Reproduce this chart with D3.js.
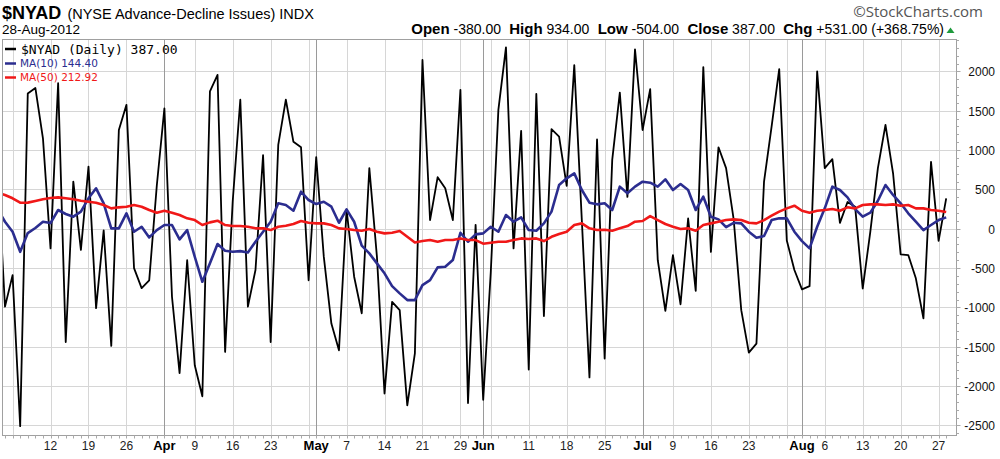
<!DOCTYPE html>
<html><head><meta charset="utf-8">
<script src="https://cdn.jsdelivr.net/npm/d3@7/dist/d3.min.js"></script>
<style>body{margin:0;background:#fff;} svg{display:block;}</style>
</head><body>
<svg id="chart" width="1000" height="459"></svg>
<script>
// ---------- DATA ----------
const tradingDays = [
 "2012-03-01","2012-03-02","2012-03-05","2012-03-06","2012-03-07","2012-03-08","2012-03-09","2012-03-12","2012-03-13","2012-03-14","2012-03-15","2012-03-16","2012-03-19","2012-03-20","2012-03-21","2012-03-22","2012-03-23","2012-03-26","2012-03-27","2012-03-28","2012-03-29","2012-03-30",
 "2012-04-02","2012-04-03","2012-04-04","2012-04-05","2012-04-09","2012-04-10","2012-04-11","2012-04-12","2012-04-13","2012-04-16","2012-04-17","2012-04-18","2012-04-19","2012-04-20","2012-04-23","2012-04-24","2012-04-25","2012-04-26","2012-04-27","2012-04-30",
 "2012-05-01","2012-05-02","2012-05-03","2012-05-04","2012-05-07","2012-05-08","2012-05-09","2012-05-10","2012-05-11","2012-05-14","2012-05-15","2012-05-16","2012-05-17","2012-05-18","2012-05-21","2012-05-22","2012-05-23","2012-05-24","2012-05-25","2012-05-29","2012-05-30","2012-05-31",
 "2012-06-01","2012-06-04","2012-06-05","2012-06-06","2012-06-07","2012-06-08","2012-06-11","2012-06-12","2012-06-13","2012-06-14","2012-06-15","2012-06-18","2012-06-19","2012-06-20","2012-06-21","2012-06-22","2012-06-25","2012-06-26","2012-06-27","2012-06-28","2012-06-29",
 "2012-07-02","2012-07-03","2012-07-05","2012-07-06","2012-07-09","2012-07-10","2012-07-11","2012-07-12","2012-07-13","2012-07-16","2012-07-17","2012-07-18","2012-07-19","2012-07-20","2012-07-23","2012-07-24","2012-07-25","2012-07-26","2012-07-27","2012-07-30","2012-07-31",
 "2012-08-01","2012-08-02","2012-08-03","2012-08-06","2012-08-07","2012-08-08","2012-08-09","2012-08-10","2012-08-13","2012-08-14","2012-08-15","2012-08-16","2012-08-17","2012-08-20","2012-08-21","2012-08-22","2012-08-23","2012-08-24","2012-08-27","2012-08-28"
];
const nyad = [800,
 -990,-590,-2510,1720,1790,1150,-250,1850,-1440,600,
 -270,790,-1010,-20,-1490,1255,1575,-500,-755,-655,
 550,1530,-865,-1835,-400,-1735,-2130,1745,1955,-1565,
 350,1640,-990,-525,935,-1440,1065,1640,1105,1035,
 -655,910,-355,-1205,-1545,240,-610,-1075,770,-355,
 -2095,-930,-1035,-2245,-1585,2145,110,655,515,110,
 1765,-2215,50,-2175,-550,1510,2305,-250,1245,-1790,
 1715,-1110,1265,1170,545,2080,100,-1890,1135,-1650,
 875,1730,405,2280,1255,1775,-400,-1045,-335,-960,
 130,-790,2055,-295,1035,770,120,-1035,-1575,-1460,
 600,1300,2030,-150,-525,-770,-730,2000,770,885,
 75,340,280,-760,-40,770,1320,705,-325,-335,
 -630,-1140,850,-155,387];
const ma10 = [250,
 89,-38,-293,-55,9,89,72,238,187,153,
 217,387,514,323,5,5,196,-38,25,-110,
 -17,47,47,-135,-17,-356,-674,-440,-195,-280,
 -293,-285,-301,-165,-38,89,323,301,229,471,
 365,314,343,280,76,247,89,-215,-313,-440,
 -567,-729,-822,-907,-907,-716,-653,-491,-483,-398,
 -51,-165,-72,-59,25,-38,174,89,145,-17,
 -25,68,217,556,641,704,492,331,310,323,
 238,535,450,535,598,585,535,628,492,568,
 492,238,407,153,119,20,76,68,-38,-114,
 -93,110,132,132,-38,-157,-250,25,259,535,
 492,399,250,153,204,356,556,429,323,196,
 89,-17,47,110,144.4];
const ma50 = [460,
 429,387,331,332,352,374,390,399,387,374,
 356,343,331,301,259,272,280,301,280,238,
 204,229,204,174,132,110,47,81,102,47,
 34,34,25,5,5,-17,25,38,60,98,
 76,68,68,47,5,-4,-17,-25,-4,-38,
 -59,-51,-29,-102,-174,-157,-144,-165,-144,-144,
 -123,-144,-144,-190,-178,-165,-165,-144,-123,-131,
 -123,-157,-102,-67,-38,47,68,5,-17,-12,
 -25,5,34,89,98,161,110,60,25,-4,
 5,-25,47,68,89,110,119,110,76,68,
 110,166,217,259,293,229,204,229,238,251,
 229,272,259,301,310,310,301,310,293,301,
 259,259,238,229,212.92];
const yTicks = [2000,1500,1000,500,0,-500,-1000,-1500,-2000,-2500];
const xTickDays = ["2012-03-12","2012-03-19","2012-03-26","2012-04-02","2012-04-09","2012-04-16","2012-04-23","2012-05-01","2012-05-07","2012-05-14","2012-05-21","2012-05-29","2012-06-01","2012-06-11","2012-06-18","2012-06-25","2012-07-02","2012-07-09","2012-07-16","2012-07-23","2012-08-01","2012-08-06","2012-08-13","2012-08-20","2012-08-27"];
const xTickLabels = ["12","19","26","Apr","9","16","23","May","7","14","21","29","Jun","11","18","25","Jul","9","16","23","Aug","6","13","20","27"];
const monthNames = ["Apr","May","Jun","Jul","Aug"];
const legendTexts = ["$NYAD (Daily) 387.00","MA(10) 144.40","MA(50) 212.92"];
const headerStats = [["Open","-380.00"],["High","934.00"],["Low","-504.00"],["Close","387.00"],["Chg","+531.00 (+368.75%)"]];

// ---------- LAYOUT ----------
const svg = d3.select("#chart");
const F = "'Liberation Sans', Arial, sans-serif";
const L = 2.5, R = 956.5, T = 39.5, B = 435.5;
const x = d3.scaleLinear().domain([1, tradingDays.length - 1]).range([5, 946.2]);
const y = d3.scaleLinear().domain([-2500, 2000]).range([425.4, 71.4]);
const parse = d3.timeParse("%Y-%m-%d");
const dates = tradingDays.map(parse);
const idx = new Map(tradingDays.map((d, i) => [d, i]));

// grid
const g = svg.append("g");
g.selectAll(".hg").data(yTicks).join("line")
  .attr("x1", L).attr("x2", R).attr("y1", d => Math.round(y(d)) + 0.5).attr("y2", d => Math.round(y(d)) + 0.5)
  .attr("stroke", "#d6d6d6").attr("stroke-width", 1);
const weekStarts = [], monthStarts = [];
dates.forEach((d, i) => {
  if (i === 0) return;
  const p = dates[i - 1];
  if (d.getMonth() !== p.getMonth()) monthStarts.push(i);
  else if (d.getDay() < p.getDay()) weekStarts.push(i);
});
g.selectAll(".wg").data(weekStarts).join("line")
  .attr("x1", d => Math.round(x(d)) + 0.5).attr("x2", d => Math.round(x(d)) + 0.5)
  .attr("y1", T).attr("y2", B).attr("stroke", "#d6d6d6");
g.selectAll(".mg").data(monthStarts).join("line")
  .attr("x1", d => Math.round(x(d)) + 0.5).attr("x2", d => Math.round(x(d)) + 0.5)
  .attr("y1", T).attr("y2", B).attr("stroke", "#9a9a9a");

// frame
svg.append("rect").attr("x", L).attr("y", T).attr("width", R - L).attr("height", B - T)
  .attr("fill", "none").attr("stroke", "#a0a0a0");

// bottom day ticks
svg.append("g").selectAll("line").data(d3.range(1, tradingDays.length)).join("line")
  .attr("x1", d => Math.round(x(d)) + 0.5).attr("x2", d => Math.round(x(d)) + 0.5)
  .attr("y1", B).attr("y2", B + 3).attr("stroke", "#aaa");

// right axis
const yAxis = d3.axisRight(y).tickValues(yTicks).tickSize(0).tickPadding(0).tickFormat(d => String(d));
const ya = svg.append("g").attr("transform", `translate(${R},0)`).call(yAxis);
ya.select(".domain").remove();
ya.selectAll("text").attr("x", 38.5).attr("text-anchor", "end").attr("dy", "0.36em")
  .style("font-family", F).style("font-size", "12px").attr("fill", "#111");
svg.append("g").selectAll("line").data(d3.range(-2600, 2401, 100)).join("line")
  .attr("x1", R).attr("x2", d => R + (d % 500 === 0 ? 4 : 2.5))
  .attr("y1", d => Math.round(y(d)) + 0.5).attr("y2", d => Math.round(y(d)) + 0.5)
  .attr("stroke", "#aaa");

// bottom labels
svg.append("g").selectAll("text").data(xTickDays).join("text")
  .attr("x", d => x(idx.get(d))).attr("y", 449.5).attr("text-anchor", "middle")
  .text((d, i) => xTickLabels[i])
  .style("font-family", F)
  .style("font-size", (d, i) => monthNames.includes(xTickLabels[i]) ? "13px" : "12px")
  .style("font-weight", (d, i) => monthNames.includes(xTickLabels[i]) ? "bold" : "normal")
  .attr("fill", (d, i) => monthNames.includes(xTickLabels[i]) ? "#000" : "#222");

// data lines
svg.append("clipPath").attr("id", "clip").append("rect")
  .attr("x", L + 0.5).attr("y", T + 0.5).attr("width", R - L - 1).attr("height", B - T - 1);
const line = d3.line().x((d, i) => x(i)).y(d => y(d));
const series = [
  { v: nyad, c: "#000000", w: 1.8 },
  { v: ma10, c: "#2b2d8f", w: 2.6 },
  { v: ma50, c: "#f01818", w: 2.6 }
];
const lg = svg.append("g").attr("clip-path", "url(#clip)");
series.forEach(s => lg.append("path").datum(s.v).attr("d", line)
  .attr("fill", "none").attr("stroke", s.c).attr("stroke-width", s.w).attr("stroke-linejoin", "round"));

// legend
const leg = svg.append("g");
const legRows = [
  { y: 49, c: "#000", font: "'DejaVu Sans Mono', monospace", size: "13px" },
  { y: 63.5, c: "#2b2d8f", font: "'DejaVu Sans', Verdana, sans-serif", size: "10.5px" },
  { y: 77.5, c: "#f01818", font: "'DejaVu Sans', Verdana, sans-serif", size: "10.5px" }
];
legRows.forEach((r, i) => {
  leg.append("line").attr("x1", 5).attr("x2", 16).attr("y1", r.y).attr("y2", r.y)
    .attr("stroke", r.c).attr("stroke-width", 2.5);
  leg.append("text").attr("x", i === 0 ? 21 : 20).attr("y", r.y).attr("dy", "0.36em")
    .text(legendTexts[i]).attr("fill", r.c).style("font-family", r.font).style("font-size", r.size);
});

// header
const h = svg.append("text").attr("x", 2).attr("y", 18.5).style("font-family", F);
h.append("tspan").text("$NYAD").style("font-weight", "bold").style("font-size", "18px");
h.append("tspan").attr("dx", 6).text("(NYSE Advance-Decline Issues) INDX").style("font-size", "14.5px");
svg.append("text").attr("x", 2).attr("y", 34).text("28-Aug-2012").style("font-family", F).style("font-size", "13.5px");
svg.append("text").attr("x", 983).attr("y", 16.5).attr("text-anchor", "end").text("\u00A9StockCharts.com")
  .style("font-family", "'Open Sans', sans-serif").style("font-size", "15px").attr("fill", "#555");
const st = svg.append("text").attr("x", 944).attr("y", 34).attr("text-anchor", "end").style("font-family", F);
headerStats.forEach((p, i) => {
  st.append("tspan").text((i ? "\u00A0\u00A0" : "") + p[0]).style("font-weight", "bold").style("font-size", "15px");
  st.append("tspan").text(" " + p[1]).style("font-size", "14px");
});
svg.append("path").attr("d", "M946.5,33 L954.5,33 L950.5,27.5 Z").attr("fill", "#1e9a3c");
</script>
</body></html>
